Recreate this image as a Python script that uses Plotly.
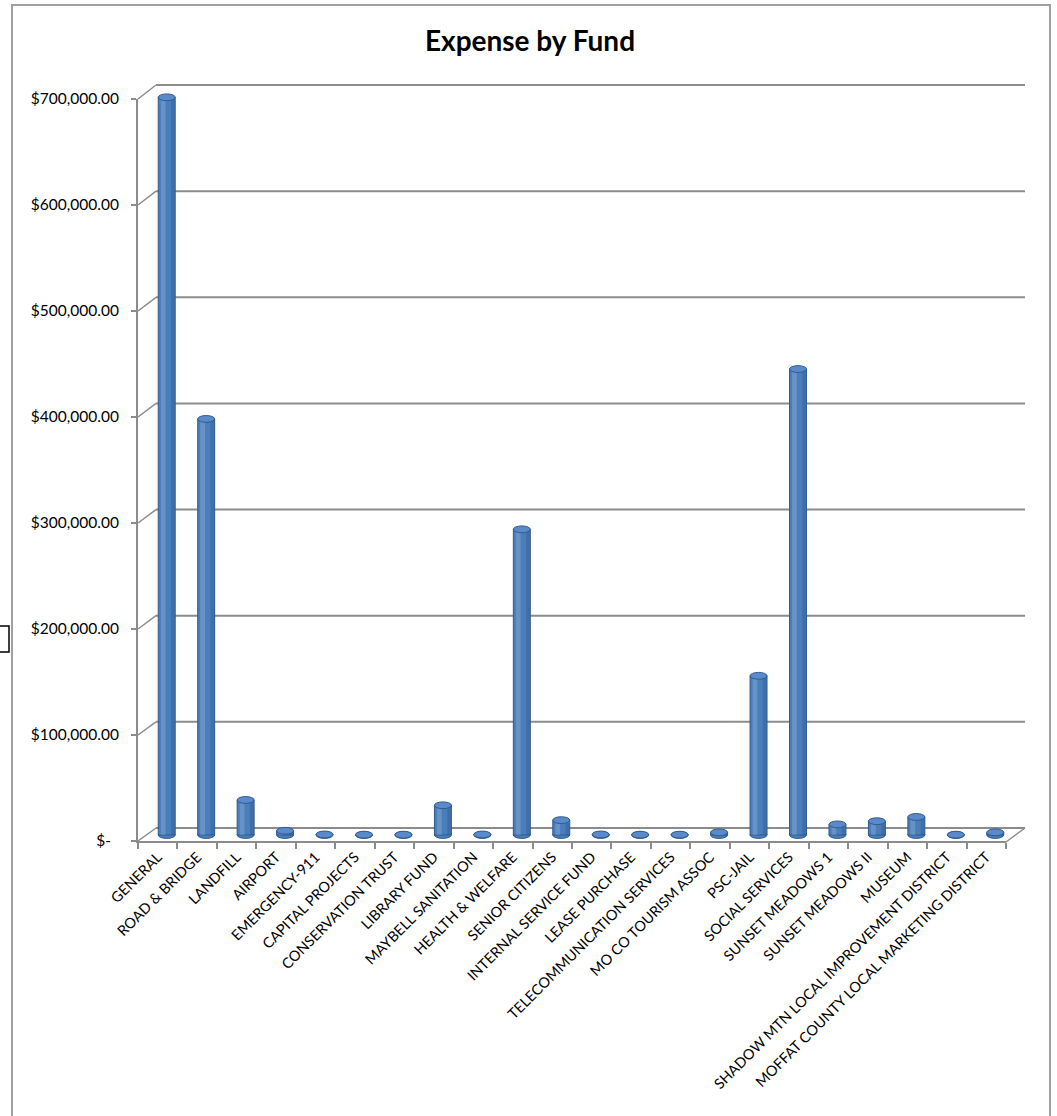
import plotly.graph_objects as go

# ---- data -------------------------------------------------------------
funds = [
    "GENERAL", "ROAD & BRIDGE", "LANDFILL", "AIRPORT", "EMERGENCY-911",
    "CAPITAL PROJECTS", "CONSERVATION TRUST", "LIBRARY FUND",
    "MAYBELL SANITATION", "HEALTH & WELFARE", "SENIOR CITIZENS",
    "INTERNAL SERVICE FUND", "LEASE PURCHASE", "TELECOMMUNICATION SERVICES",
    "MO CO TOURISM ASSOC", "PSC-JAIL", "SOCIAL SERVICES", "SUNSET MEADOWS 1",
    "SUNSET MEADOWS II", "MUSEUM", "SHADOW MTN LOCAL IMPROVEMENT DISTRICT",
    "MOFFAT COUNTY LOCAL MARKETING DISTRICT",
]
expenses = [
    695000, 392000, 33000, 4000, 500,
    300, 300, 28000,
    500, 288000, 14000,
    500, 300, 300,
    2500, 150000, 439000, 10000,
    13000, 17000, 300,
    2500,
]
y_ticks = [0, 100000, 200000, 300000, 400000, 500000, 600000, 700000]
y_tick_labels = ["$-\u00a0\u00a0", "$100,000.00", "$200,000.00", "$300,000.00",
                 "$400,000.00", "$500,000.00", "$600,000.00", "$700,000.00"]

# ---- geometry helpers (pixel -> paper) --------------------------------
W, H = 1057, 1116
Y_MAX = 700000


def px_x(px):
    return px / W


def px_y(py):
    return 1 - py / H


AXIS_GREY = "#8C8C8C"
BAR_BLUE = "#4A7EBB"
BAR_EDGE = "#2F5B8F"
CAP_BLUE = "#5A8ACA"

# front plane (axes, labels), middle plane (cylinders), back wall (gridlines)
FRONT_X, FRONT_Y = (138, 1006), (841, 99)
MID_X, MID_Y = (147, 1015), (835, 92)
BACK_X, BACK_Y = (156, 1025), (828, 85)

n = len(funds)
cat_range = [-0.5, n - 0.5]

# the cylinder plane gets a little headroom so caps and bottoms are not clipped
mid_vpp = Y_MAX / (MID_Y[0] - MID_Y[1])
PAD = 12
mid_range = [-PAD * mid_vpp, Y_MAX + PAD * mid_vpp]
mid_domain = [px_y(MID_Y[0] + PAD), px_y(MID_Y[1] - PAD)]

fig = go.Figure()

# invisible carrier for the front axes
fig.add_trace(go.Scatter(x=funds, y=[0] * n, mode="markers",
                         marker=dict(opacity=0), hoverinfo="skip",
                         showlegend=False))

# cylinder bodies
fig.add_trace(go.Bar(
    x=funds, y=expenses, xaxis="x2", yaxis="y2",
    width=0.43, offset=-0.215,
    marker=dict(color=BAR_BLUE, line=dict(color=BAR_EDGE, width=1)),
    hoverinfo="x+y",
))
# soft highlight and shade giving the rounded look
fig.add_trace(go.Bar(
    x=funds, y=expenses, xaxis="x2", yaxis="y2",
    width=0.12, offset=-0.15,
    marker=dict(color="rgba(255,255,255,0.16)", line=dict(width=0)),
    hoverinfo="skip",
))
fig.add_trace(go.Bar(
    x=funds, y=expenses, xaxis="x2", yaxis="y2",
    width=0.09, offset=0.11,
    marker=dict(color="rgba(20,40,80,0.18)", line=dict(width=0)),
    hoverinfo="skip",
))

shapes = []

# chart border
shapes.append(dict(type="rect", xref="paper", yref="paper",
                   x0=px_x(12), x1=px_x(1050), y0=-0.02, y1=px_y(5),
                   line=dict(color="#A0A0A0", width=2), layer="below"))
# small selection box at the left edge
shapes.append(dict(type="rect", xref="paper", yref="paper",
                   x0=-0.01, x1=px_x(9), y0=px_y(652), y1=px_y(626),
                   line=dict(color="black", width=1.5), layer="above"))

# back-wall gridlines and the perspective connectors from the front axis
f_scale = (FRONT_Y[0] - FRONT_Y[1]) / Y_MAX
b_scale = (BACK_Y[0] - BACK_Y[1]) / Y_MAX
for v in y_ticks:
    yb = px_y(BACK_Y[0] - v * b_scale)
    shapes.append(dict(type="line", xref="paper", yref="paper",
                       x0=px_x(BACK_X[0]), x1=px_x(BACK_X[1]), y0=yb, y1=yb,
                       line=dict(color=AXIS_GREY, width=2), layer="below"))
    shapes.append(dict(type="line", xref="paper", yref="paper",
                       x0=px_x(FRONT_X[0]), y0=px_y(FRONT_Y[0] - v * f_scale),
                       x1=px_x(BACK_X[0]), y1=yb,
                       line=dict(color=AXIS_GREY, width=1.5), layer="below"))
# right edge of the floor
shapes.append(dict(type="line", xref="paper", yref="paper",
                   x0=px_x(FRONT_X[1]), y0=px_y(FRONT_Y[0] + 1),
                   x1=px_x(BACK_X[1]), y1=px_y(BACK_Y[0]),
                   line=dict(color=AXIS_GREY, width=1.5), layer="below"))

# cylinder bottoms and caps
half_w = 0.215
cap_dv = 3.4 * mid_vpp
for i, v in enumerate(expenses):
    shapes.append(dict(type="circle", xref="x2", yref="y2",
                       x0=i - half_w, x1=i + half_w, y0=-cap_dv, y1=cap_dv,
                       fillcolor=BAR_BLUE, line=dict(color=BAR_EDGE, width=1),
                       layer="below"))
    shapes.append(dict(type="circle", xref="x2", yref="y2",
                       x0=i - half_w, x1=i + half_w, y0=v - cap_dv, y1=v + cap_dv,
                       fillcolor=CAP_BLUE, line=dict(color=BAR_EDGE, width=1),
                       layer="above"))

fig.update_layout(
    width=W, height=H,
    margin=dict(l=0, r=0, t=0, b=0, autoexpand=False),
    paper_bgcolor="white",
    plot_bgcolor="rgba(0,0,0,0)",
    showlegend=False,
    barmode="overlay",
    font=dict(family="Lato, Carlito, sans-serif", color="black"),
    title=dict(text="Expense by Fund", x=px_x(530), xanchor="center",
               y=px_y(41), yanchor="middle",
               font=dict(size=28, weight="bold", color="black")),
    xaxis=dict(domain=[px_x(FRONT_X[0]), px_x(FRONT_X[1])], anchor="y",
               type="category", categoryarray=funds, range=cat_range,
               automargin=False,
               showline=True, linecolor=AXIS_GREY, linewidth=2,
               ticks="outside", tickson="boundaries", ticklen=6,
               tickcolor=AXIS_GREY, tickwidth=1.5, tickangle=-45,
               tickfont=dict(size=14.5), showgrid=False, zeroline=False),
    yaxis=dict(domain=[px_y(FRONT_Y[0]), px_y(FRONT_Y[1])], anchor="x",
               range=[0, Y_MAX], tickmode="array", tickvals=y_ticks,
               automargin=False,
               ticktext=y_tick_labels, showline=True, linecolor=AXIS_GREY,
               linewidth=2, ticks="outside", ticklen=5, tickcolor=AXIS_GREY,
               tickwidth=1.5, ticklabelstandoff=9, tickfont=dict(size=15.5),
               showgrid=False, zeroline=False),
    xaxis2=dict(domain=[px_x(MID_X[0]), px_x(MID_X[1])], anchor="y2",
                type="category", categoryarray=funds, range=cat_range,
                automargin=False, visible=False),
    yaxis2=dict(domain=mid_domain, anchor="x2", range=mid_range,
                automargin=False, visible=False),
    shapes=shapes,
)

fig.write_html("out.html")
